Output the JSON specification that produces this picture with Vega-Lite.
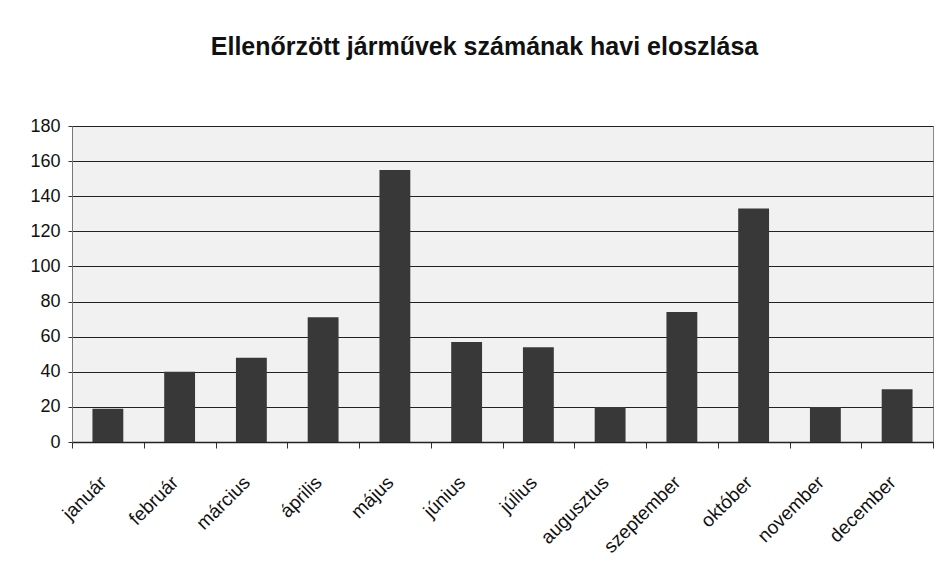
{
  "$schema": "https://vega.github.io/schema/vega-lite/v6.json",
  "width": 861,
  "height": 316,
  "autosize": "none",
  "padding": {"left": 72, "top": 126, "right": 4, "bottom": 142},
  "background": "white",
  "title": {
    "text": "Ellenőrzött járművek számának havi eloszlása",
    "font": "Liberation Sans",
    "fontSize": 25,
    "fontWeight": "bold",
    "color": "#111111",
    "anchor": "middle",
    "frame": "group",
    "dx": -18,
    "offset": 57
  },
  "data": {
    "values": [
      {"month": "január", "count": 19},
      {"month": "február", "count": 40},
      {"month": "március", "count": 48},
      {"month": "április", "count": 71},
      {"month": "május", "count": 155},
      {"month": "június", "count": 57},
      {"month": "július", "count": 54},
      {"month": "augusztus", "count": 20},
      {"month": "szeptember", "count": 74},
      {"month": "október", "count": 133},
      {"month": "november", "count": 20},
      {"month": "december", "count": 30}
    ]
  },
  "mark": {"type": "bar", "color": "#383838", "width": {"band": 0.43}},
  "encoding": {
    "x": {
      "field": "month",
      "type": "nominal",
      "sort": null,
      "title": null,
      "scale": {"paddingInner": 0, "paddingOuter": 0},
      "axis": {
        "labelAngle": -45,
        "labelAlign": "right",
        "labelBaseline": "middle",
        "labelPadding": 31,
        "labelOffset": -5,
        "labelFont": "Liberation Sans",
        "labelFontSize": 19,
        "labelColor": "#111111",
        "bandPosition": 0,
        "tickBand": "extent",
        "tickSize": 6,
        "tickColor": "#333333",
        "domainColor": "#222222",
        "domainWidth": 1.5,
        "grid": false
      }
    },
    "y": {
      "field": "count",
      "type": "quantitative",
      "title": null,
      "scale": {"domain": [0, 180], "nice": false},
      "axis": {
        "values": [0, 20, 40, 60, 80, 100, 120, 140, 160, 180],
        "grid": true,
        "gridColor": "#222222",
        "gridWidth": 1.2,
        "tickSize": 4,
        "tickColor": "#333333",
        "labelPadding": 8,
        "labelFont": "Liberation Sans",
        "labelFontSize": 18,
        "labelColor": "#111111",
        "domainColor": "#777777"
      }
    }
  },
  "config": {
    "view": {"stroke": "#888888", "fill": "#f1f1f1"}
  }
}
